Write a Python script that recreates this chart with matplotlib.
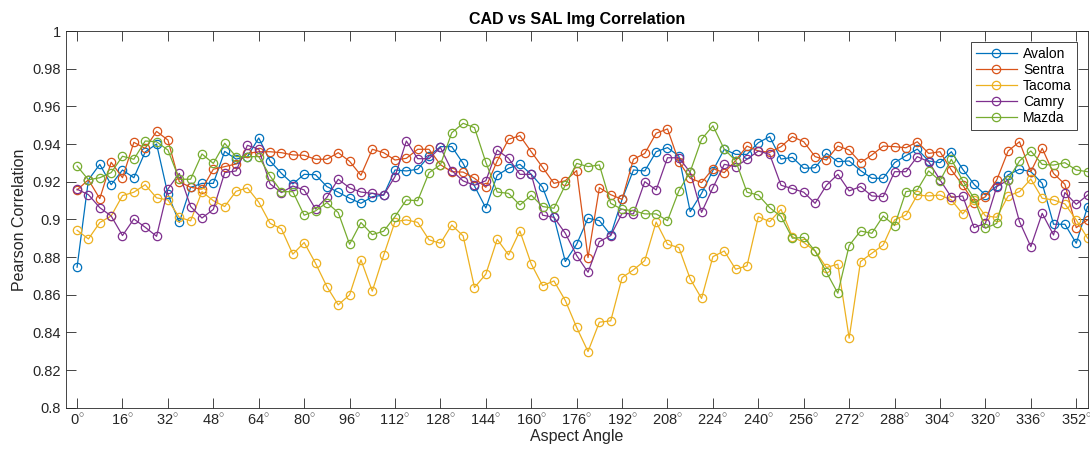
import numpy as np
import matplotlib
matplotlib.use("Agg")
import matplotlib.pyplot as plt

plt.rcParams['font.family'] = ['Liberation Sans', 'DejaVu Sans']
plt.rcParams['mathtext.fontset'] = 'custom'
plt.rcParams['mathtext.rm'] = 'Liberation Sans'

# aspect angles (deg), one sample every 4 deg
angles = np.arange(0, 360, 4)

avalon = [0.8746, 0.9210, 0.9292, 0.9184, 0.9262, 0.9221, 0.9358, 0.9400, 0.9133, 0.8984,
          0.9170, 0.9191, 0.9191, 0.9361, 0.9320, 0.9333, 0.9432, 0.9310, 0.9244, 0.9188,
          0.9239, 0.9237, 0.9174, 0.9144, 0.9112, 0.9085, 0.9120, 0.9129, 0.9262, 0.9257,
          0.9266, 0.9336, 0.9386, 0.9386, 0.9297, 0.9177, 0.9060, 0.9234, 0.9271, 0.9292,
          0.9239, 0.9170, 0.9011, 0.8776, 0.8868, 0.9006, 0.8993, 0.8917, 0.9106, 0.9262,
          0.9257, 0.9359, 0.9381, 0.9336, 0.9041, 0.9138, 0.9259, 0.9372, 0.9345, 0.9345,
          0.9407, 0.9439, 0.9320, 0.9329, 0.9271, 0.9274, 0.9350, 0.9306, 0.9310, 0.9259,
          0.9218, 0.9218, 0.9301, 0.9338, 0.9373, 0.9310, 0.9301, 0.9359, 0.9266, 0.9186,
          0.9129, 0.9177, 0.9236, 0.9266, 0.9253, 0.9191, 0.8974, 0.8974, 0.8873, 0.9068]

sentra = [0.9156, 0.9210, 0.9110, 0.9303, 0.9221, 0.9409, 0.9377, 0.9467, 0.9421, 0.9200,
          0.9170, 0.9161, 0.9266, 0.9280, 0.9294, 0.9350, 0.9359, 0.9359, 0.9354, 0.9342,
          0.9340, 0.9319, 0.9319, 0.9354, 0.9308, 0.9234, 0.9372, 0.9354, 0.9315, 0.9324,
          0.9372, 0.9372, 0.9290, 0.9253, 0.9251, 0.9218, 0.9170, 0.9310, 0.9425, 0.9444,
          0.9359, 0.9276, 0.9191, 0.9205, 0.9259, 0.8797, 0.9168, 0.9131, 0.9106, 0.9319,
          0.9350, 0.9457, 0.9480, 0.9306, 0.9218, 0.9195, 0.9269, 0.9248, 0.9312, 0.9389,
          0.9363, 0.9356, 0.9386, 0.9439, 0.9412, 0.9333, 0.9315, 0.9389, 0.9368, 0.9301,
          0.9342, 0.9389, 0.9386, 0.9380, 0.9412, 0.9350, 0.9359, 0.9262, 0.9182, 0.9089,
          0.9120, 0.9209, 0.9363, 0.9412, 0.9253, 0.9377, 0.9244, 0.9186, 0.8956, 0.8997]

tacoma = [0.8942, 0.8896, 0.8983, 0.9018, 0.9126, 0.9144, 0.9184, 0.9114, 0.9103, 0.9011,
          0.8992, 0.9147, 0.9099, 0.9068, 0.9149, 0.9167, 0.9091, 0.8979, 0.8949, 0.8815,
          0.8877, 0.8767, 0.8643, 0.8546, 0.8599, 0.8785, 0.8619, 0.8809, 0.8988, 0.8997,
          0.8984, 0.8891, 0.8873, 0.8970, 0.8912, 0.8638, 0.8709, 0.8894, 0.8811, 0.8938,
          0.8763, 0.8648, 0.8673, 0.8569, 0.8426, 0.8298, 0.8454, 0.8461, 0.8691, 0.8732,
          0.8781, 0.8986, 0.8868, 0.8850, 0.8684, 0.8580, 0.8802, 0.8832, 0.8735, 0.8753,
          0.9014, 0.8988, 0.9053, 0.8908, 0.8877, 0.8832, 0.8744, 0.8762, 0.8369, 0.8776,
          0.8820, 0.8864, 0.8997, 0.9023, 0.9129, 0.9124, 0.9129, 0.9103, 0.9029, 0.9103,
          0.9018, 0.9011, 0.9124, 0.9147, 0.9214, 0.9112, 0.9103, 0.9082, 0.8997, 0.8900]

camry = [0.9160, 0.9131, 0.9062, 0.9018, 0.8914, 0.9002, 0.8958, 0.8910, 0.9161, 0.9244,
         0.9068, 0.9007, 0.9053, 0.9248, 0.9257, 0.9393, 0.9373, 0.9188, 0.9142, 0.9177,
         0.9156, 0.9055, 0.9117, 0.9213, 0.9167, 0.9145, 0.9138, 0.9129, 0.9227, 0.9416,
         0.9322, 0.9322, 0.9382, 0.9259, 0.9204, 0.9181, 0.9205, 0.9368, 0.9324, 0.9239,
         0.9239, 0.9022, 0.9011, 0.8926, 0.8808, 0.8719, 0.8882, 0.8914, 0.9032, 0.9029,
         0.9200, 0.9156, 0.9327, 0.9327, 0.9250, 0.9037, 0.9168, 0.9292, 0.9280, 0.9319,
         0.9363, 0.9345, 0.9181, 0.9163, 0.9144, 0.9085, 0.9181, 0.9239, 0.9151, 0.9174,
         0.9124, 0.9121, 0.9253, 0.9253, 0.9333, 0.9306, 0.9210, 0.9117, 0.9124, 0.8956,
         0.8979, 0.9174, 0.9209, 0.8988, 0.8855, 0.9032, 0.8917, 0.9142, 0.9080, 0.9129]

mazda = [0.9283, 0.9210, 0.9221, 0.9248, 0.9335, 0.9319, 0.9416, 0.9412, 0.9368, 0.9213,
         0.9213, 0.9347, 0.9297, 0.9404, 0.9333, 0.9333, 0.9333, 0.9230, 0.9147, 0.9147,
         0.9022, 0.9045, 0.9089, 0.9036, 0.8868, 0.8983, 0.8919, 0.8937, 0.9015, 0.9103,
         0.9099, 0.9248, 0.9290, 0.9460, 0.9510, 0.9487, 0.9303, 0.9145, 0.9138, 0.9076,
         0.9128, 0.9068, 0.9059, 0.9182, 0.9297, 0.9280, 0.9289, 0.9085, 0.9053, 0.9046,
         0.9029, 0.9029, 0.8993, 0.9151, 0.9253, 0.9425, 0.9497, 0.9372, 0.9312, 0.9144,
         0.9129, 0.9062, 0.9015, 0.8900, 0.8904, 0.8832, 0.8719, 0.8608, 0.8861, 0.8938,
         0.8926, 0.9018, 0.8967, 0.9147, 0.9156, 0.9257, 0.9205, 0.9319, 0.9205, 0.9112,
         0.8953, 0.8979, 0.9209, 0.9310, 0.9363, 0.9292, 0.9288, 0.9301, 0.9262, 0.9253]

series = [("Avalon", avalon), ("Sentra", sentra), ("Tacoma", tacoma),
          ("Camry", camry), ("Mazda", mazda)]
colors = ["#0072BD", "#D95319", "#EDB120", "#7E2F8E", "#77AC30"]

xticks = np.arange(0, 353, 16)
yticks = np.round(np.arange(0.8, 1.001, 0.02), 2)

fig = plt.figure(figsize=(10.9, 4.54), dpi=100)
ax = fig.add_axes([0.0603, 0.102, 0.9375, 0.8297])

for (name, vals), c in zip(series, colors):
    ax.plot(angles, vals, color=c, lw=0.9, marker='o', ms=6,
            mfc='none', mec=c, mew=0.9, label=name)

axcol = '#262626'
ax.set_xlim(-4, 356)
ax.set_ylim(0.8, 1.0)
ax.set_xticks(xticks)
ax.set_xticklabels([f'{a}' + r'$^{\circ}$' for a in xticks])
ax.set_yticks(yticks)
ax.set_yticklabels([f'{v:g}' for v in yticks])
ax.tick_params(direction='in', length=7, width=0.6, colors=axcol,
               labelsize=10.5, top=True, right=True)
for s in ax.spines.values():
    s.set_color(axcol)
    s.set_linewidth(0.6)

ax.set_title("CAD vs SAL Img Correlation", fontsize=11.5, fontweight='bold',
             color='black', pad=5)
ax.set_xlabel("Aspect Angle", fontsize=11.5, color=axcol, labelpad=1)
ax.set_ylabel("Pearson Correlation", fontsize=11.5, color=axcol, labelpad=4)

leg = ax.legend(loc='upper right', bbox_to_anchor=(1 - 11 / 1022, 1 - 11 / 377),
                borderaxespad=0, fontsize=10, frameon=True, fancybox=False,
                handlelength=3.0, handletextpad=0.4, labelspacing=0.15,
                borderpad=0.35, framealpha=1)
leg.get_frame().set_edgecolor(axcol)
leg.get_frame().set_linewidth(0.6)

fig.savefig("out.png", dpi=100)
